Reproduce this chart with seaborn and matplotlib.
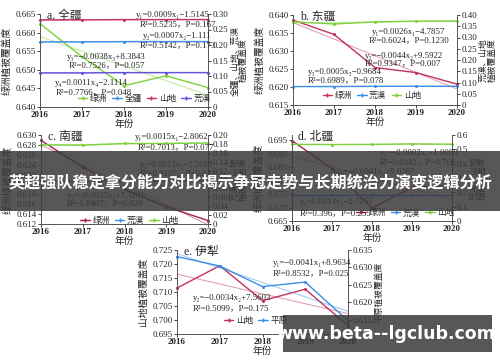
import numpy as np
import pandas as pd
import matplotlib
matplotlib.use("Agg")
import matplotlib.pyplot as plt
import seaborn as sns
from matplotlib.lines import Line2D
from matplotlib.patches import Rectangle
from matplotlib.ticker import FixedLocator, FuncFormatter

# ---------------- data ----------------
years = [2016, 2017, 2018, 2019, 2020]

a_oasis = [0.6624, 0.6535, 0.6457, 0.6484, 0.6452]
a_all = [0.210, 0.210, 0.211, 0.211, 0.211]
a_mountain = [0.281, 0.281, 0.282, 0.282, 0.282]
a_desert = [0.110, 0.110, 0.111, 0.111, 0.111]

b_oasis = [0.6386, 0.6346, 0.6254, 0.6240, 0.6208]
b_desert = [0.082, 0.082, 0.083, 0.083, 0.083]
b_mountain = [0.370, 0.360, 0.369, 0.373, 0.373]

c_oasis = [0.6289, 0.6235, 0.6190, 0.6155, 0.6127]
c_desert = [0.096, 0.096, 0.097, 0.097, 0.097]
c_mountain = [0.178, 0.177, 0.181, 0.181, 0.182]

d_oasis = [0.6949, 0.6845, 0.6698, 0.6775, 0.6783]
d_desert = [0.184, 0.184, 0.184, 0.184, 0.184]
d_mountain = [0.535, 0.533, 0.534, 0.538, 0.535]

e_mountain = [0.7114, 0.7194, 0.7069, 0.7110, 0.6980]
e_plain = [0.6331, 0.6304, 0.6245, 0.6258, 0.6147]

banner_text = "英超强队稳定拿分能力对比揭示争冠走势与长期统治力演变逻辑分析"
watermark_text = "www.beta--lgclub.com"

GREEN = "#7cd13c"
BLUE = "#3d8fe6"
RED = "#c2325e"
DRED = "#a3224c"
PURPLE = "#6650df"

sns.set_style("ticks")
plt.rcParams["font.family"] = ["Liberation Serif", "Noto Sans CJK SC"]
plt.rcParams["axes.linewidth"] = 0.6
plt.rcParams["xtick.major.width"] = 0.6
plt.rcParams["ytick.major.width"] = 0.6
plt.rcParams["xtick.major.size"] = 2
plt.rcParams["ytick.major.size"] = 2

W, H = 500, 362
fig = plt.figure(figsize=(W / 100, H / 100), dpi=100)


def fmt(dec):
    def f(v, pos):
        if abs(v) < 1e-12:
            return "0"
        return f"{v:.{dec}f}"
    return FuncFormatter(f)


def draw(ax, values, color, label):
    df = pd.DataFrame({"year": years, "v": values})
    sns.lineplot(data=df, x="year", y="v", ax=ax, color=color, marker="o",
                 markersize=2.2, markeredgewidth=0, linewidth=1.0,
                 legend=False, clip_on=False)
    coef = np.polyfit(years, values, 1)
    ax.plot(years, np.polyval(coef, years), color=color, lw=0.8, alpha=0.45)
    return Line2D([], [], color=color, marker="+", markersize=3.5, lw=1.0), label


def panel(px, title, left, right, lylim, lticks, ldec, rylim, rticks, rdec,
          lylabel, rylabel, order, legloc):
    x0, y0, x1, y1 = px
    ax = fig.add_axes([x0 / W, 1 - y1 / H, (x1 - x0) / W, (y1 - y0) / H])
    ax2 = ax.twinx()
    handles = {}
    for vals, col, lab in left:
        h, l = draw(ax, vals, col, lab)
        handles[l] = h
    for vals, col, lab in right:
        h, l = draw(ax2, vals, col, lab)
        handles[l] = h
    ax.set_xlim(2016, 2020)
    ax.set_ylim(*lylim)
    ax2.set_ylim(*rylim)
    ax.xaxis.set_major_locator(FixedLocator(years))
    ax.set_xticklabels([str(y) for y in years], fontsize=6.5, fontweight="bold")
    ax.yaxis.set_major_locator(FixedLocator(lticks))
    ax.yaxis.set_major_formatter(fmt(ldec))
    ax2.yaxis.set_major_locator(FixedLocator(rticks))
    ax2.yaxis.set_major_formatter(fmt(rdec))
    ax.tick_params(axis="both", labelsize=6.5, pad=1)
    ax2.tick_params(axis="y", labelsize=6.5, pad=1)
    for a in (ax, ax2):
        a.spines["top"].set_visible(False)
        for s in a.spines.values():
            s.set_color("#555555")
    ax.set_xlabel("年份", fontsize=7, labelpad=0)
    ax.set_ylabel(lylabel, fontsize=7, labelpad=3, linespacing=1.1)
    ax2.set_ylabel(rylabel, fontsize=6.3, labelpad=2, linespacing=1.05)
    ax.text(0.04, 0.98, title, transform=ax.transAxes, fontsize=8.5,
            ha="left", va="center")
    ax2.legend([handles[k] for k in order], order, loc="center",
               bbox_to_anchor=legloc, ncol=len(order), frameon=False,
               fontsize=6.2, handlelength=1.1, columnspacing=0.6,
               handletextpad=0.3, borderpad=0)
    return ax, ax2


panel((40, 14, 208, 107), "a. 全疆",
      [(a_oasis, GREEN, "绿洲")],
      [(a_all, BLUE, "全疆"), (a_mountain, RED, "山地"), (a_desert, PURPLE, "荒漠")],
      (0.640, 0.665), [0.640, 0.645, 0.650, 0.655, 0.660, 0.665], 3,
      (0, 0.30), [0, 0.05, 0.10, 0.15, 0.20, 0.25, 0.30], 2,
      "绿洲植被覆盖度", "全疆、山地、荒漠\n植被覆盖度",
      ["绿洲", "全疆", "山地", "荒漠"], (0.62, 0.09))

panel((293, 15, 457, 105), "b. 东疆",
      [(b_oasis, RED, "绿洲")],
      [(b_desert, BLUE, "荒漠"), (b_mountain, GREEN, "山地")],
      (0.615, 0.640), [0.615, 0.620, 0.625, 0.630, 0.635, 0.640], 3,
      (0, 0.40), [0, 0.05, 0.10, 0.15, 0.20, 0.25, 0.30, 0.35, 0.40], 2,
      "绿洲植被覆盖度", "荒漠、山地\n植被覆盖度",
      ["绿洲", "荒漠", "山地"], (0.48, 0.10))

panel((41, 135, 208, 224), "c. 南疆",
      [(c_oasis, DRED, "绿洲")],
      [(c_desert, BLUE, "荒漠"), (c_mountain, GREEN, "山地")],
      (0.612, 0.630), [0.612, 0.614, 0.616, 0.618, 0.620, 0.622, 0.624, 0.626, 0.628, 0.630], 3,
      (0, 0.20), [0, 0.02, 0.04, 0.06, 0.08, 0.10, 0.12, 0.14, 0.16, 0.18, 0.20], 2,
      "绿洲植被覆盖度", "荒漠、山地\n植被覆盖度",
      ["绿洲", "荒漠", "山地"], (0.53, 0.04))

panel((292, 135, 452, 221), "d. 北疆",
      [(d_oasis, DRED, "绿洲")],
      [(d_desert, BLUE, "荒漠"), (d_mountain, GREEN, "山地")],
      (0.665, 0.697), [0.665, 0.670, 0.675, 0.680, 0.685, 0.690, 0.695], 3,
      (0, 0.6), [0, 0.1, 0.2, 0.3, 0.4, 0.5, 0.6], 1,
      "绿洲植被覆盖度", "荒漠、山地\n植被覆盖度",
      ["绿洲", "荒漠", "山地"], (0.71, 0.09))

panel((177, 250, 348, 334), "e. 伊犁",
      [(e_mountain, RED, "山地")],
      [(e_plain, BLUE, "平原")],
      (0.695, 0.725), [0.695, 0.700, 0.705, 0.710, 0.715, 0.720, 0.725], 3,
      (0.6109, 0.635), [0.615, 0.620, 0.625, 0.630, 0.635], 3,
      "山地植被覆盖度", "平原植被覆盖度",
      ["山地", "平原"], (0.46, 0.16))

annotations = [
    ("y₁=0.0009x₁−1.5145", 136, 15), ("R²=0.5235，P=0.167", 140, 24),
    ("y₂=0.0007x₂−1.111", 143, 36), ("R²=0.5142，P=0.173", 140, 45),
    ("y₃=−0.0038x₃+8.3843", 67, 57), ("R²=0.7526，P=0.057", 69, 65),
    ("y₄=0.0011x₄−2.1114", 55, 83), ("R²=0.7766，P=0.048", 56, 92),
    ("y₁=0.0026x₁−4.7857", 372, 32), ("R²=0.6024，P=0.1230", 369, 40),
    ("y₂=−0.0044x₂+9.5922", 365, 56), ("R²=0.9347，P=0.007", 365, 63),
    ("y₃=0.0005x₃−0.9684", 308, 72), ("R²=0.6989，P=0.078", 308, 80),
    ("y₁=0.0015x₁−2.8062", 135, 137), ("R²=0.7013，P=0.077", 138, 147),
    ("y₂=0.0012x₂−2.2629", 140, 165), ("R²=0.9107，P=0.012", 140, 173),
    ("y₃=−0.0035x₃+7.3201", 67, 196), ("R²=0.8407，P=0.028", 67, 203),
    ("y₁=−0.0002x₁+1.0088", 380, 153), ("R²=0.0342，P=0.766", 380, 162),
    ("y₂=−0.0041x₂+9.0367", 337, 172),
    ("y₃=0.0014x₃−2.7157", 300, 202), ("R²=0.396，P=0.255", 300, 213),
    ("y₁=−0.0041x₁+8.9634", 273, 263), ("R²=0.8532，P=0.025", 273, 273),
    ("y₂=−0.0034x₂+7.5603", 193, 298), ("R²=0.5099，P=0.175", 193, 308),
]
for txt, x, y in annotations:
    fig.text(x / W, 1 - y / H, txt, fontsize=6.3, ha="left", va="center",
             color="#222222")

# overlay banner
fig.patches.append(Rectangle((0, 1 - 211 / H), 1, 60 / H, transform=fig.transFigure,
                             facecolor="#3a3a3a", alpha=0.85, edgecolor="none",
                             zorder=10))
fig.text(0.5, 1 - 183 / H, banner_text, fontsize=11.6, fontweight="bold",
         color="white", ha="center", va="center",
         family=["Noto Sans CJK SC", "DejaVu Sans"], zorder=11)

# watermark
fig.patches.append(Rectangle((283 / W, 1 - 352 / H), 209 / W, 37 / H,
                             transform=fig.transFigure, facecolor="#3a3a3a",
                             alpha=0.85, edgecolor="none", zorder=10))
fig.text(386 / W, 1 - 334 / H, watermark_text, fontsize=12.5, fontweight="bold",
         color="white", ha="center", va="center", family=["DejaVu Sans"],
         zorder=11)

fig.savefig("out.png", dpi=100)
